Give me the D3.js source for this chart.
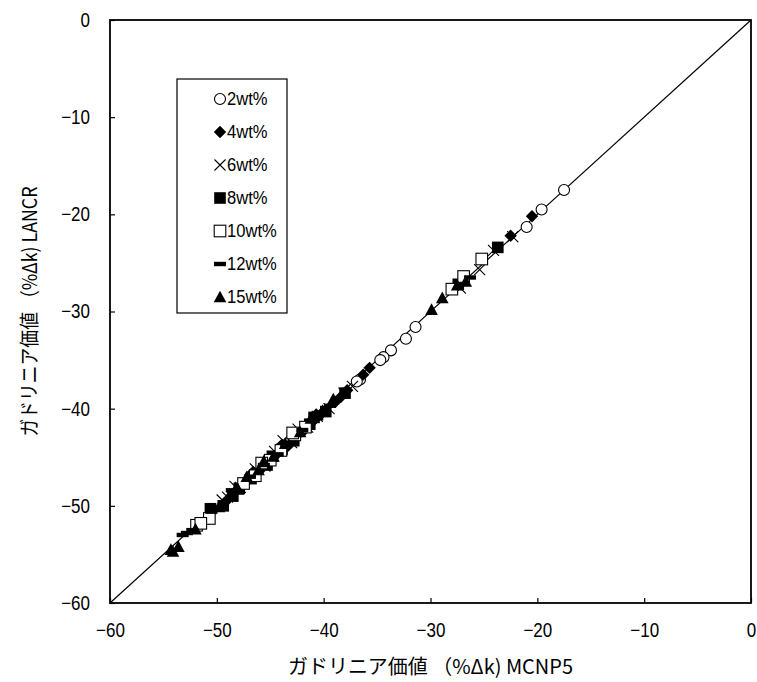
<!DOCTYPE html>
<html><head><meta charset="utf-8">
<script src="https://cdn.jsdelivr.net/npm/d3@7"></script>
<style>
body{margin:0;background:#fff;}
svg text{font-family:"Liberation Sans",Arial,sans-serif;fill:#000;}
</style></head><body>
<svg id="chart" width="757" height="682"></svg>
<script>
const xTicks = [-60,-50,-40,-30,-20,-10,0];
const yTicks = [-60,-50,-40,-30,-20,-10,0];
const seriesNames = ["2wt%","4wt%","6wt%","8wt%","10wt%","12wt%","15wt%"];
const s2 = [[-17.5,-17.5],[-19.6,-19.5],[-21.0,-21.3],[-31.4,-31.6],[-32.3,-32.8],[-33.7,-34.0],[-34.4,-34.7],[-34.7,-35.0],[-36.6,-37.0],[-36.9,-37.2]];
const s4 = [[-20.5,-20.2],[-22.5,-22.2],[-35.7,-35.8],[-36.3,-36.5],[-37.8,-38.1],[-38.4,-38.8],[-38.9,-39.3],[-40.2,-40.5],[-40.7,-40.6],[-41.0,-41.3],[-41.8,-42.2],[-42.5,-42.8],[-43.4,-43.9],[-43.9,-43.7],[-44.3,-44.6],[-45.2,-45.6],[-46.0,-46.4],[-46.6,-46.5],[-47.3,-47.6],[-48.6,-48.9],[-49.2,-49.6]];
const s6 = [[-22.3,-22.3],[-24.1,-23.7],[-25.4,-25.7],[-27.2,-27.6],[-37.3,-37.7],[-38.1,-38.4],[-39.5,-40.0],[-40.6,-40.8],[-41.5,-41.9],[-42.4,-42.1],[-43.0,-43.5],[-43.8,-43.3],[-44.6,-44.4],[-45.5,-45.9],[-46.4,-46.2],[-47.8,-48.1],[-48.3,-48.0],[-49.0,-49.1],[-49.5,-49.4]];
const s8 = [[-23.7,-23.4],[-27.4,-27.2],[-38.0,-38.4],[-39.8,-40.3],[-40.9,-40.9],[-41.3,-41.6],[-42.8,-43.3],[-43.9,-44.2],[-44.8,-44.9],[-45.3,-45.8],[-46.8,-47.2],[-47.9,-48.2],[-48.5,-49.0],[-49.4,-50.0],[-50.6,-50.3]];
const s10 = [[-25.2,-24.6],[-26.9,-26.4],[-28.0,-27.7],[-41.7,-41.9],[-42.7,-42.7],[-42.9,-42.5],[-44.0,-44.3],[-45.0,-45.3],[-45.8,-45.6],[-46.4,-46.9],[-47.5,-47.7],[-50.7,-51.3],[-51.9,-52.0],[-51.5,-51.8]];
const s12 = [[-52.8,-52.8],[-53.2,-53.0],[-52.3,-52.5],[-50.5,-50.6],[-48.6,-48.4],[-46.9,-47.0],[-45.6,-45.8],[-44.3,-44.7],[-43.5,-43.8],[-42.0,-42.2],[-40.6,-41.0],[-39.4,-39.7],[-26.3,-26.5]];
const s15 = [[-29.9,-29.8],[-28.9,-28.6],[-27.5,-27.3],[-26.7,-26.9],[-54.1,-54.7],[-53.6,-54.2],[-54.3,-54.5],[-52.0,-52.4],[-49.8,-50.1],[-48.0,-48.3],[-47.2,-47.0],[-46.1,-46.3],[-45.6,-45.4],[-44.7,-44.9],[-43.6,-43.6],[-42.2,-42.4],[-41.2,-41.0],[-40.1,-40.2],[-39.1,-39.0]];
const seriesData = [s2,s4,s6,s8,s10,s12,s15];
const xTitle = "ガドリニア価値 （%Δk) MCNP5";
const yTitle = "ガドリニア価値 （%Δk) LANCR";

const svg = d3.select("#chart");
const L=110, R=751, T=20, B=603;
const x = d3.scaleLinear().domain([-60,0]).range([L,R]);
const y = d3.scaleLinear().domain([-60,0]).range([B,T]);

function narrow(sel, f){
  sel.each(function(){ const w=this.getComputedTextLength(); d3.select(this).attr("textLength",w*f).attr("lengthAdjust","spacingAndGlyphs"); });
}

svg.append("line").attr("x1",x(-60)).attr("y1",y(-60)).attr("x2",x(0)).attr("y2",y(0))
  .attr("stroke","#000").attr("stroke-width",1.2);

const fmt = d => d<0 ? "\u2212"+Math.abs(d) : String(d);
const xAxis = svg.append("g").attr("transform",`translate(0,${B})`)
  .call(d3.axisBottom(x).tickValues(xTicks).tickSizeInner(-5).tickSizeOuter(0).tickPadding(20).tickFormat(fmt));
const yAxis = svg.append("g").attr("transform",`translate(${L},0)`)
  .call(d3.axisLeft(y).tickValues(yTicks).tickSizeInner(-5).tickSizeOuter(0).tickPadding(20).tickFormat(fmt));
[xAxis,yAxis].forEach(a=>{
  a.selectAll("text").attr("font-size",20).style("font-family",'"Liberation Sans",Arial,sans-serif').attr("fill","#000");
  narrow(a.selectAll("text"),0.85);
  a.select(".domain").remove();
  a.selectAll(".tick line").attr("stroke","#000").attr("stroke-width",1.2);
});
svg.append("rect").attr("x",L).attr("y",T).attr("width",R-L).attr("height",B-T)
  .attr("fill","none").attr("stroke","#000").attr("stroke-width",1.8);

function drawMarker(g, k, cx, cy){
  if(k===0){ g.append("circle").attr("cx",cx).attr("cy",cy).attr("r",5.5).attr("fill","#fff").attr("stroke","#000").attr("stroke-width",1.1); }
  else if(k===1){ const h=6.2; g.append("path").attr("d",`M${cx},${cy-h}L${cx+h},${cy}L${cx},${cy+h}L${cx-h},${cy}Z`).attr("fill","#000"); }
  else if(k===2){ const h=5.5; g.append("path").attr("d",`M${cx-h},${cy-h}L${cx+h},${cy+h}M${cx-h},${cy+h}L${cx+h},${cy-h}`).attr("stroke","#000").attr("stroke-width",1.1).attr("fill","none"); }
  else if(k===3){ g.append("rect").attr("x",cx-5.8).attr("y",cy-5.8).attr("width",11.6).attr("height",11.6).attr("fill","#000"); }
  else if(k===4){ g.append("rect").attr("x",cx-5.8).attr("y",cy-5.8).attr("width",11.6).attr("height",11.6).attr("fill","#fff").attr("stroke","#000").attr("stroke-width",1.1); }
  else if(k===5){ g.append("rect").attr("x",cx-6).attr("y",cy-2.2).attr("width",12).attr("height",4.4).attr("fill","#000"); }
  else if(k===6){ const h=6.3; g.append("path").attr("d",`M${cx},${cy-h}L${cx+h},${cy+h*0.85}L${cx-h},${cy+h*0.85}Z`).attr("fill","#000"); }
}
seriesData.forEach((arr,k)=>{
  const g = svg.append("g");
  arr.forEach(p=>drawMarker(g,k,x(p[0]),y(p[1])));
});

const lg = svg.append("g");
lg.append("rect").attr("x",177).attr("y",79).attr("width",110).attr("height",234).attr("fill","#fff").attr("stroke","#000").attr("stroke-width",1.2);
seriesNames.forEach((n,k)=>{
  const cy = 99 + k*33;
  drawMarker(lg,k,220,cy);
  const t = lg.append("text").attr("x",227).attr("y",cy).attr("dy","0.36em").attr("font-size",18)
    .style("font-family",'"Liberation Sans",Arial,sans-serif').text(n);
  narrow(t,0.92);
});

const xt = svg.append("text").attr("x",(L+R)/2).attr("y",667).attr("dy","0.35em").attr("text-anchor","middle")
  .attr("font-size",20).style("font-family",'"Noto Sans CJK JP",sans-serif').text(xTitle);
xt.attr("textLength",285).attr("lengthAdjust","spacingAndGlyphs");
const yt = svg.append("text").attr("transform",`translate(30,${(T+B)/2}) rotate(-90)`).attr("dy","0.35em").attr("text-anchor","middle")
  .attr("font-size",20).style("font-family",'"Noto Sans CJK JP",sans-serif').text(yTitle);
yt.attr("textLength",250).attr("lengthAdjust","spacingAndGlyphs");
</script></body></html>
